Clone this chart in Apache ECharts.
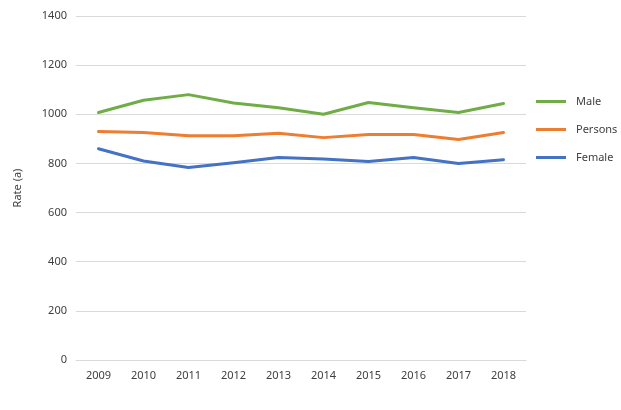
<!DOCTYPE html>
<html><head><meta charset="utf-8">
<script src="https://cdn.jsdelivr.net/npm/echarts@6/dist/echarts.min.js"></script>
<style>html,body{margin:0;padding:0;background:#fff}#c{width:621px;height:410px}</style>
</head><body><div id="c"></div>
<script>
const years = ['2009','2010','2011','2012','2013','2014','2015','2016','2017','2018'];
const male = [1007,1057,1080,1046,1027,1000,1048,1027,1007,1044];
const persons = [930,926,913,913,923,905,918,918,897,926];
const female = [860,810,783,803,824,818,808,824,800,815];
const chart = echarts.init(document.getElementById('c'));
const font = '"Noto Sans", "DejaVu Sans", sans-serif';
function s(name, data, color){
  return {name, type:'line', data, symbol:'none', smooth:false,
    lineStyle:{width:3, color, cap:'round', join:'round'}, itemStyle:{color}};
}
chart.setOption({
  animation:false,
  textStyle:{fontFamily:font},
  grid:{left:76, right:95, top:16, bottom:50},
  legend:{orient:'vertical', left:531, top:91, itemWidth:30, itemHeight:3, itemGap:17,
    icon:'rect', textStyle:{fontSize:11, color:'#404040', fontFamily:font, padding:[0,0,0,5]},
    data:['Male','Persons','Female']},
  xAxis:{type:'category', data:years, boundaryGap:true,
    axisLine:{lineStyle:{color:'#d9d9d9'}}, axisTick:{show:false},
    axisLabel:{color:'#404040', fontSize:11, margin:10, fontFamily:font}},
  yAxis:{type:'value', min:0, max:1400, interval:200, name:'Rate (a)',
    nameLocation:'middle', nameGap:53, nameRotate:90,
    nameTextStyle:{color:'#404040', fontSize:11, fontFamily:font},
    axisLine:{show:false}, axisTick:{show:false},
    axisLabel:{color:'#404040', fontSize:11, margin:9, fontFamily:font, formatter:v=>String(v)},
    splitLine:{lineStyle:{color:'#d9d9d9'}}},
  series:[s('Male', male, '#70AD47'), s('Persons', persons, '#ED7D31'), s('Female', female, '#4472C4')]
});
</script></body></html>
